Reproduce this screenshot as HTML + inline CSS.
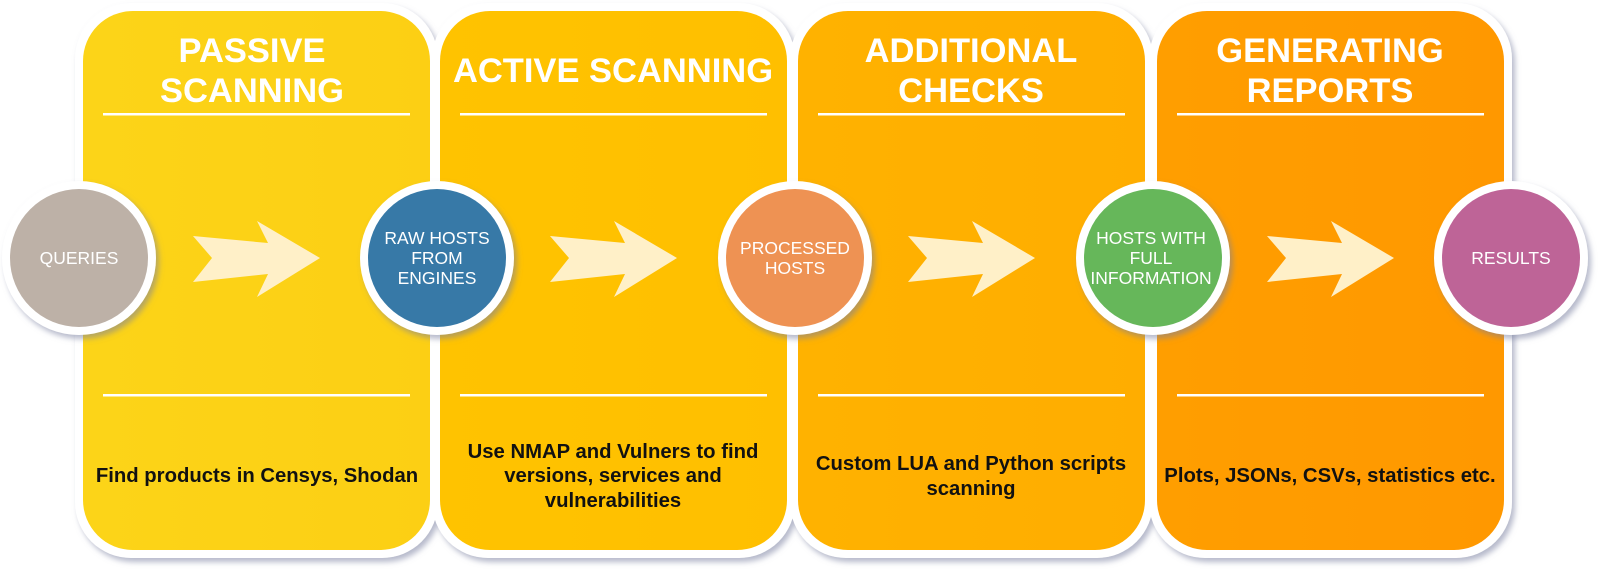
<!DOCTYPE html>
<html><head><meta charset="utf-8"><style>
html,body{margin:0;padding:0;background:#fff;}
svg{display:block;}
text{font-family:"Liberation Sans",Arial,sans-serif;}
</style></head><body>
<svg width="1600" height="574" viewBox="0 0 1600 574" xmlns="http://www.w3.org/2000/svg">
<defs>
<filter id="sh" x="-10%" y="-10%" width="120%" height="120%"><feDropShadow dx="3" dy="4" stdDeviation="3" flood-color="#7a7fa0" flood-opacity="0.55"/></filter>
<linearGradient id="g1" x1="0" x2="1"><stop offset="0" stop-color="#FCD418"/><stop offset="1" stop-color="#FCCF14"/></linearGradient>
<linearGradient id="g2" x1="0" x2="1"><stop offset="0" stop-color="#FFC300"/><stop offset="1" stop-color="#FFBF00"/></linearGradient>
<linearGradient id="g3" x1="0" x2="1"><stop offset="0" stop-color="#FFB200"/><stop offset="1" stop-color="#FFAD00"/></linearGradient>
<linearGradient id="g4" x1="0" x2="1"><stop offset="0" stop-color="#FF9E00"/><stop offset="1" stop-color="#FF9800"/></linearGradient>
</defs>
<g filter="url(#sh)">
<rect x="75" y="3" width="363" height="555" rx="56" fill="#fff"/>
<rect x="432" y="3" width="363" height="555" rx="56" fill="#fff"/>
<rect x="790" y="3" width="363" height="555" rx="56" fill="#fff"/>
<rect x="1149" y="3" width="363" height="555" rx="56" fill="#fff"/>
</g>
<rect x="83" y="11" width="347" height="539" rx="50" fill="url(#g1)"/>
<rect x="440" y="11" width="347" height="539" rx="50" fill="url(#g2)"/>
<rect x="798" y="11" width="347" height="539" rx="50" fill="url(#g3)"/>
<rect x="1157" y="11" width="347" height="539" rx="50" fill="url(#g4)"/>
<g fill="#fff">
<rect x="103" y="113" width="307" height="2.5"/><rect x="103" y="394" width="307" height="2.5"/>
<rect x="460" y="113" width="307" height="2.5"/><rect x="460" y="394" width="307" height="2.5"/>
<rect x="818" y="113" width="307" height="2.5"/><rect x="818" y="394" width="307" height="2.5"/>
<rect x="1177" y="113" width="307" height="2.5"/><rect x="1177" y="394" width="307" height="2.5"/>
</g>
<g fill="#fff" font-weight="bold" font-size="34.5" text-anchor="middle">
<text x="252" y="62">PASSIVE</text><text x="252" y="102">SCANNING</text>
<text x="613" y="82">ACTIVE SCANNING</text>
<text x="971" y="62">ADDITIONAL</text><text x="971" y="102">CHECKS</text>
<text x="1330" y="62">GENERATING</text><text x="1330" y="102">REPORTS</text>
</g>
<g fill="#111" font-weight="bold" font-size="20.3" text-anchor="middle">
<text x="257" y="482">Find products in Censys, Shodan</text>
<text x="613" y="458">Use NMAP and Vulners to find</text>
<text x="613" y="482">versions, services and</text>
<text x="613" y="507">vulnerabilities</text>
<text x="971" y="470">Custom LUA and Python scripts</text>
<text x="971" y="495">scanning</text>
<text x="1330" y="482">Plots, JSONs, CSVs, statistics etc.</text>
</g>
<g fill="#FFF0C8">
<polygon id="ar" points="193,236 212,258 193,282 268,274 257,297 320,258 257,221 268,243"/>
<use href="#ar" x="357"/><use href="#ar" x="715"/><use href="#ar" x="1074"/>
</g>
<g filter="url(#sh)" fill="#fff">
<circle cx="79" cy="258" r="77"/><circle cx="437" cy="258" r="77"/><circle cx="795" cy="258" r="77"/><circle cx="1153" cy="258" r="77"/><circle cx="1511" cy="258" r="77"/>
</g>
<circle cx="79" cy="258" r="69" fill="#BDB1A7"/>
<circle cx="437" cy="258" r="69" fill="#3779A7"/>
<circle cx="795" cy="258" r="69" fill="#EE9253"/>
<circle cx="1153" cy="258" r="69" fill="#66B75A"/>
<circle cx="1511" cy="258" r="69" fill="#BE6497"/>
<g fill="#fff" font-size="17.5" text-anchor="middle">
<text x="79" y="264">QUERIES</text>
<text x="437" y="244">RAW HOSTS</text><text x="437" y="264">FROM</text><text x="437" y="284">ENGINES</text>
<text x="795" y="254">PROCESSED</text><text x="795" y="274">HOSTS</text>
<text x="1151" y="244">HOSTS WITH</text><text x="1151" y="264">FULL</text><text x="1151" y="284">INFORMATION</text>
<text x="1511" y="264">RESULTS</text>
</g>
</svg>
</body></html>
